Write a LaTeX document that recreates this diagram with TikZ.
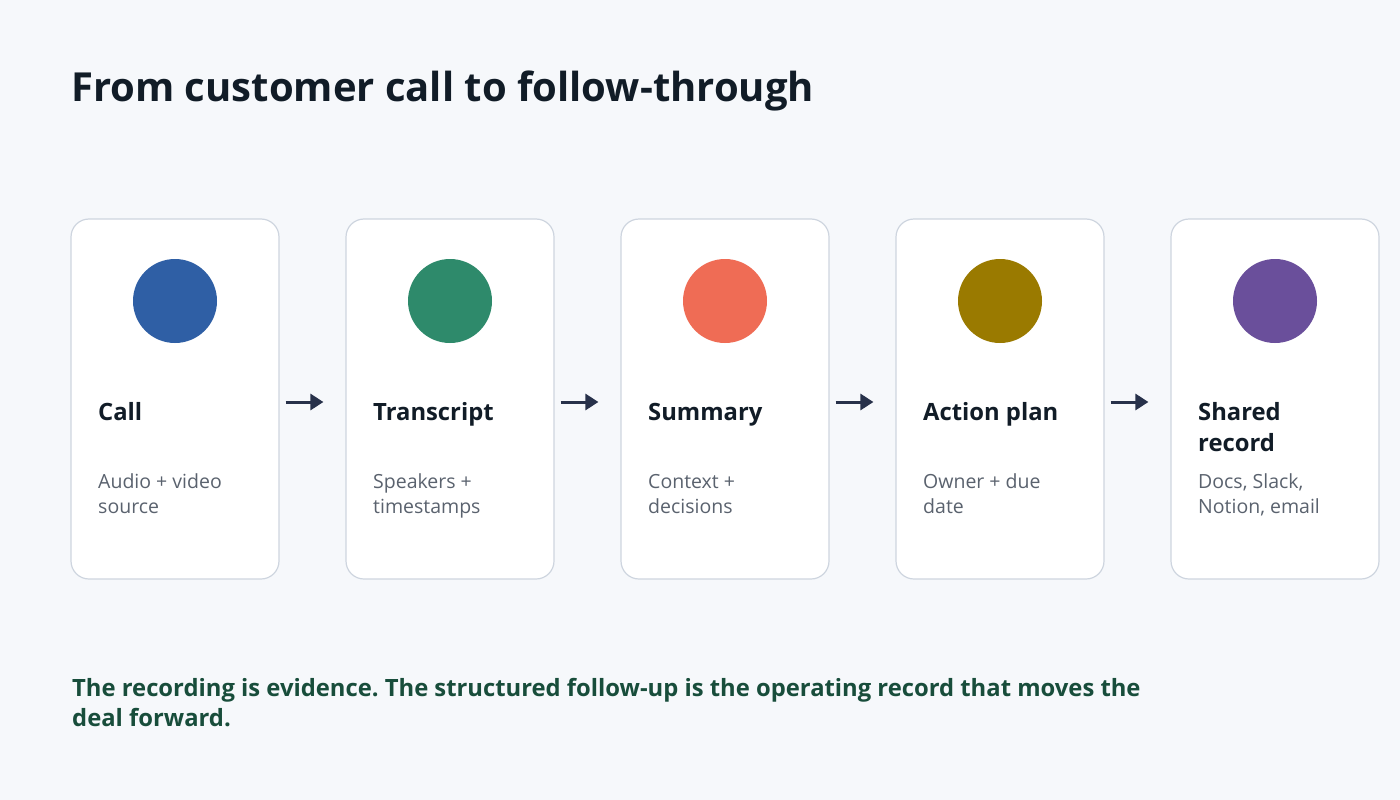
\documentclass[tikz,border=0pt]{standalone}
\usepackage{fontspec}
\setmainfont{Open Sans}
\usetikzlibrary{arrows.meta}
\definecolor{bg}{HTML}{F6F8FB}
\definecolor{cardline}{HTML}{CED5DF}
\definecolor{ink}{HTML}{111C27}
\definecolor{sub}{HTML}{5A626E}
\definecolor{arrowc}{HTML}{27314A}
\definecolor{note}{HTML}{184D3B}
\definecolor{cblue}{HTML}{2F5FA5}
\definecolor{cgreen}{HTML}{2E8A6B}
\definecolor{ccoral}{HTML}{EF6C55}
\definecolor{colive}{HTML}{9A7A00}
\definecolor{cpurple}{HTML}{6A4F9B}
\frenchspacing
\tikzset{
  card/.style={draw=cardline, line width=1.2pt, fill=white, rounded corners=18pt, minimum width=208pt, minimum height=360pt, inner sep=0pt},
  dot/.style={circle, minimum size=84pt, inner sep=0pt},
  steptitle/.style={anchor=base west, inner sep=0pt, text=ink, font=\fontsize{23.8}{31}\selectfont\bfseries, align=left},
  stepdesc/.style={anchor=base west, inner sep=0pt, text=sub, font=\fontsize{19.5}{25}\selectfont, align=left},
  arr/.style={draw=arrowc, line width=3pt, -{Triangle[length=13pt,width=16pt]}},
}
\begin{document}
\begin{tikzpicture}[x=1pt,y=-1pt]
\useasboundingbox (0,0) rectangle (1400,800);
\fill[bg] (0,0) rectangle (1400,800);
\node[anchor=base west, inner sep=0pt, text=ink, font=\fontsize{40}{48}\selectfont\bfseries] (title) at (71,101) {From customer call to follow-through};
% cards
\node[card] (c1) at (175,399) {};
\node[card] (c2) at (450,399) {};
\node[card] (c3) at (725,399) {};
\node[card] (c4) at (1000,399) {};
\node[card] (c5) at (1275,399) {};
% dots
\node[dot, fill=cblue] (d1) at (175,301) {};
\node[dot, fill=cgreen] (d2) at (450,301) {};
\node[dot, fill=ccoral] (d3) at (725,301) {};
\node[dot, fill=colive] (d4) at (1000,301) {};
\node[dot, fill=cpurple] (d5) at (1275,301) {};
% titles
\node[steptitle] (t1) at (98,420) {Call};
\node[steptitle] (t2) at (373,420) {Transcript};
\node[steptitle] (t3) at (648,420) {Summary};
\node[steptitle] (t4) at (923,420) {Action plan};
\node[steptitle] (t5) at (1198,451) {Shared\\record};
% descriptions
\node[stepdesc] (s1) at (98,513) {Audio + video\\source};
\node[stepdesc] (s2) at (373,513) {Speakers +\\timestamps};
\node[stepdesc] (s3) at (648,513) {Context +\\decisions};
\node[stepdesc] (s4) at (923,513) {Owner + due\\date};
\node[stepdesc] (s5) at (1198,513) {Docs, Slack,\\Notion, email};
% arrows
\draw[arr] ([xshift=6pt,yshift=-3pt]c1.east) -- ([xshift=-22pt,yshift=-3pt]c2.west);
\draw[arr] ([xshift=6pt,yshift=-3pt]c2.east) -- ([xshift=-22pt,yshift=-3pt]c3.west);
\draw[arr] ([xshift=6pt,yshift=-3pt]c3.east) -- ([xshift=-22pt,yshift=-3pt]c4.west);
\draw[arr] ([xshift=6pt,yshift=-3pt]c4.east) -- ([xshift=-22pt,yshift=-3pt]c5.west);
% note
\node[anchor=base west, inner sep=0pt, text=note, align=left, font=\fontsize{23.8}{30}\selectfont\bfseries] (note) at (72,726) {The recording is evidence. The structured follow-up is the operating record that moves the\\deal forward.};
\end{tikzpicture}
\end{document}
